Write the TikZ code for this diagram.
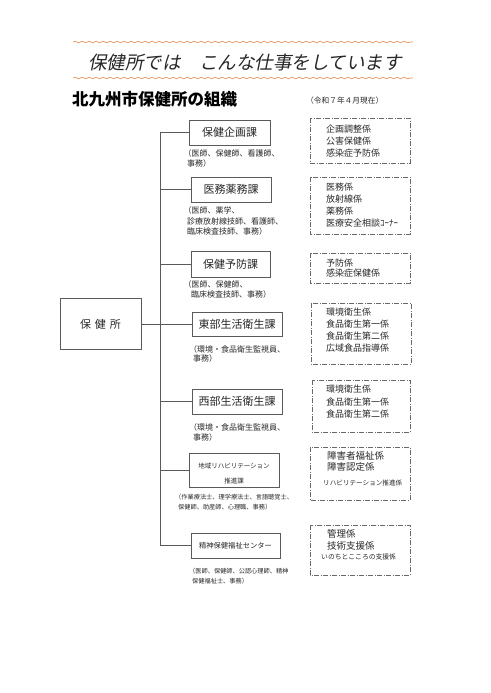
\documentclass[tikz,border=0pt]{standalone}
\usepackage{fontspec}
\setmainfont{Noto Sans CJK JP}
\newfontfamily\titlefont[FakeSlant=0.2]{Noto Sans CJK JP}
\usetikzlibrary{decorations.pathmorphing}
\definecolor{wave}{RGB}{230,150,95}
\definecolor{ln}{RGB}{90,90,90}
\definecolor{gln}{RGB}{105,105,105}
\definecolor{tx}{RGB}{40,40,40}
\begin{document}
\begin{tikzpicture}[x=1pt,y=-1pt,
 secbox/.style={draw=ln, line width=0.8pt, inner sep=0pt, font=\fontsize{11}{13}\selectfont, text=tx},
 grpbox/.style={draw=gln, line width=0.6pt, dash pattern=on 5pt off 1.5pt on 1pt off 1.5pt},
 conn/.style={draw=ln, line width=0.8pt},
 sub/.style={anchor=west, inner sep=0pt, font=\fontsize{8}{10}\selectfont, text=tx},
 subs/.style={anchor=west, inner sep=0pt, font=\fontsize{6.2}{8}\selectfont, text=tx},
 item/.style={anchor=west, inner sep=0pt, font=\fontsize{9}{11}\selectfont, text=tx},
 itemsm/.style={anchor=west, inner sep=0pt, font=\fontsize{6.8}{8}\selectfont, text=tx},
 wavy/.style={draw=wave, line width=0.7pt, decorate, decoration={snake, amplitude=0.8pt, segment length=7pt}},
]
\useasboundingbox (0,0) rectangle (490,693);
\fill[white] (0,0) rectangle (490,693);

% header
\coordinate (w1a) at (73,42); \coordinate (w1b) at (413,42);
\coordinate (w2a) at (73,78); \coordinate (w2b) at (413,78);
\draw[wavy] (w1a) -- (w1b);
\draw[wavy] (w2a) -- (w2b);
\node[inner sep=0pt, text=tx, font=\titlefont\fontsize{18.5}{20}\selectfont] (title) at (245,62) {保健所では　こんな仕事をしています};
\node[anchor=west, inner sep=0pt, text=black, font=\bfseries\fontsize{16.5}{18}\selectfont] (head) at (72,99) {北九州市保健所の組織};
\node[anchor=west, inner sep=0pt, text=tx, font=\fontsize{7.7}{9}\selectfont] (date) at (306,101) {（令和７年４月現在）};

% root
\node[secbox, minimum width=81pt, minimum height=51pt] (root) at (100.5,324) {保\hspace{4pt}健\hspace{4pt}所};

% sections
\node[secbox, minimum width=81pt, minimum height=25pt] (A1) at (229.5,132.5) {保健企画課};
\node[secbox, minimum width=80pt, minimum height=25pt] (A2) at (231,189.5) {医務薬務課};
\node[secbox, minimum width=79pt, minimum height=26pt] (A3) at (230.5,264) {保健予防課};
\node[secbox, minimum width=90pt, minimum height=24pt] (A4) at (237,324) {東部生活衛生課};
\node[secbox, minimum width=90pt, minimum height=25pt] (A5) at (237,401.5) {西部生活衛生課};
\node[secbox, minimum width=90pt, minimum height=34pt] (A6) at (234,470) {};
\node[inner sep=0pt, text=tx, font=\fontsize{6.5}{8}\selectfont] (A6a) at (234,466) {地域リハビリテーション};
\node[inner sep=0pt, text=tx, font=\fontsize{6.5}{8}\selectfont] (A6b) at (234,481) {推進課};
\node[secbox, minimum width=89pt, minimum height=25pt, font=\fontsize{7.3}{9}\selectfont] (A7) at (235.5,545.5) {精神保健福祉センター};

% connectors
\coordinate (trunk) at (160,0);
\draw[conn] (A1.west -| trunk) -- (A7.west -| trunk);
\foreach \n in {A1,A2,A3,A5,A6,A7} \draw[conn] (\n.west) -- (\n.west -| trunk);
\draw[conn] (root.east) -- (A4.west);

% section sub texts
\node[sub] (s1a) at (183.5,153) {（医師、保健師、看護師、};
\node[sub] (s1b) at (187,163) {事務）};
\node[sub] (s2a) at (183.5,210) {（医師、薬学、};
\node[sub] (s2b) at (187,221) {診療放射線技師、看護師、};
\node[sub] (s2c) at (187,231) {臨床検査技師、事務）};
\node[sub] (s3a) at (183.5,284) {（医師、保健師、};
\node[sub] (s3b) at (191,294) {臨床検査技師、事務）};
\node[sub] (s4a) at (189,349) {（環境・食品衛生監視員、};
\node[sub] (s4b) at (193,358) {事務）};
\node[sub] (s5a) at (189,427) {（環境・食品衛生監視員、};
\node[sub] (s5b) at (193,437) {事務）};
\node[subs] (s6a) at (175,497) {（作業療法士、理学療法士、言語聴覚士、};
\node[subs] (s6b) at (178,507) {保健師、助産師、心理職、事務）};
\node[subs] (s7a) at (189,571) {（医師、保健師、公認心理師、精神};
\node[subs] (s7b) at (192,581) {保健福祉士、事務）};

% group boxes
\coordinate (g1a) at (310,118); \coordinate (g1b) at (410,163);
\coordinate (g2a) at (310,177); \coordinate (g2b) at (410,234);
\coordinate (g3a) at (310,253); \coordinate (g3b) at (410,283);
\coordinate (g4a) at (311,303); \coordinate (g4b) at (411,364);
\coordinate (g5a) at (312,380); \coordinate (g5b) at (410,432);
\coordinate (g6a) at (310,447); \coordinate (g6b) at (410,500);
\coordinate (g7a) at (310,525); \coordinate (g7b) at (410,575);
\foreach \g in {1,...,7} \draw[grpbox] (g\g a) rectangle (g\g b);

\node[item] (r1a) at (326,129) {企画調整係};
\node[item] (r1b) at (326,141) {公害保健係};
\node[item] (r1c) at (326,153) {感染症予防係};
\node[item] (r2a) at (326,187) {医務係};
\node[item] (r2b) at (326,199) {放射線係};
\node[item] (r2c) at (326,211) {薬務係};
\node[item] (r2d) at (326,223) {医療安全相談ｺｰﾅｰ};
\node[item] (r3a) at (326,263) {予防係};
\node[item] (r3b) at (326,273) {感染症保健係};
\node[item] (r4a) at (326,312) {環境衛生係};
\node[item] (r4b) at (326,324) {食品衛生第一係};
\node[item] (r4c) at (326,336) {食品衛生第二係};
\node[item] (r4d) at (326,348) {広域食品指導係};
\node[item] (r5a) at (326,389) {環境衛生係};
\node[item] (r5b) at (326,402) {食品衛生第一係};
\node[item] (r5c) at (326,414) {食品衛生第二係};
\node[item, font=\fontsize{9.5}{11}\selectfont] (r6a) at (327,456) {障害者福祉係};
\node[item, font=\fontsize{9.5}{11}\selectfont] (r6b) at (327,467) {障害認定係};
\node[itemsm, font=\fontsize{6.6}{8}\selectfont] (r6c) at (323,483) {リハビリテーション推進係};
\node[item, font=\fontsize{9.5}{11}\selectfont] (r7a) at (327,534) {管理係};
\node[item, font=\fontsize{9.5}{11}\selectfont] (r7b) at (327,546) {技術支援係};
\node[itemsm] (r7c) at (321,557) {いのちとこころの支援係};
\end{tikzpicture}
\end{document}
